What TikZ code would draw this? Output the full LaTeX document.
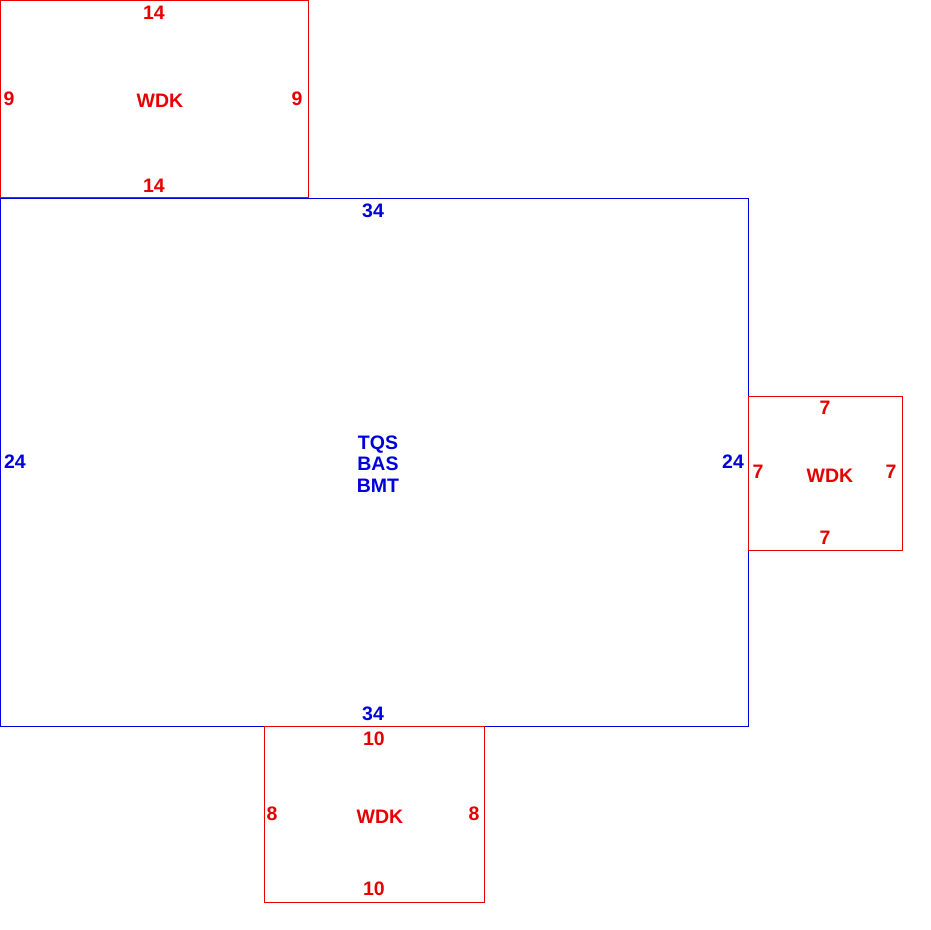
\documentclass[tikz,border=0pt]{standalone}
\usepackage{fontspec}
\setmainfont{Liberation Sans}
\definecolor{dimred}{RGB}{230,0,0}
\definecolor{dimblue}{RGB}{0,0,220}
\begin{document}
\begin{tikzpicture}[x=1pt,y=-1pt,
  redline/.style={draw=dimred,line width=0.9pt},
  blueline/.style={draw=dimblue,line width=0.9pt},
  redlbl/.style={text=dimred,font=\fontsize{19.5}{21.5}\selectfont\bfseries,inner sep=0pt,align=center},
  bluelbl/.style={text=dimblue,font=\fontsize{19.5}{21.5}\selectfont\bfseries,inner sep=0pt,align=center}]
\useasboundingbox (0,0) rectangle (930,930);
% shapes
\draw[redline] (0.5,0.5) rectangle (308,197);
\draw[blueline] (0.5,198) rectangle (748,726);
\draw[redline] (748,396) rectangle (902,550);
\draw[redline] (264,726) rectangle (484,902);
% top WDK
\node[redlbl] (t1) at (154,13) {14};
\node[redlbl] (t2) at (9,99) {9};
\node[redlbl] (t3) at (297,99) {9};
\node[redlbl] (t4) at (160,101) {WDK};
\node[redlbl] (t5) at (154,186) {14};
% main
\node[bluelbl] (m1) at (373,211) {34};
\node[bluelbl] (m2) at (15,462) {24};
\node[bluelbl] (m3) at (733,462) {24};
\node[bluelbl] (m4) at (378,464) {TQS\\BAS\\BMT};
\node[bluelbl] (m5) at (373,714) {34};
% right WDK
\node[redlbl] (r1) at (825,408) {7};
\node[redlbl] (r2) at (758,472) {7};
\node[redlbl] (r3) at (891,472) {7};
\node[redlbl] (r4) at (830,476) {WDK};
\node[redlbl] (r5) at (825,538) {7};
% bottom WDK
\node[redlbl] (b1) at (374,739) {10};
\node[redlbl] (b2) at (272,814) {8};
\node[redlbl] (b3) at (474,814) {8};
\node[redlbl] (b4) at (380,817) {WDK};
\node[redlbl] (b5) at (374,889) {10};
\end{tikzpicture}
\end{document}
